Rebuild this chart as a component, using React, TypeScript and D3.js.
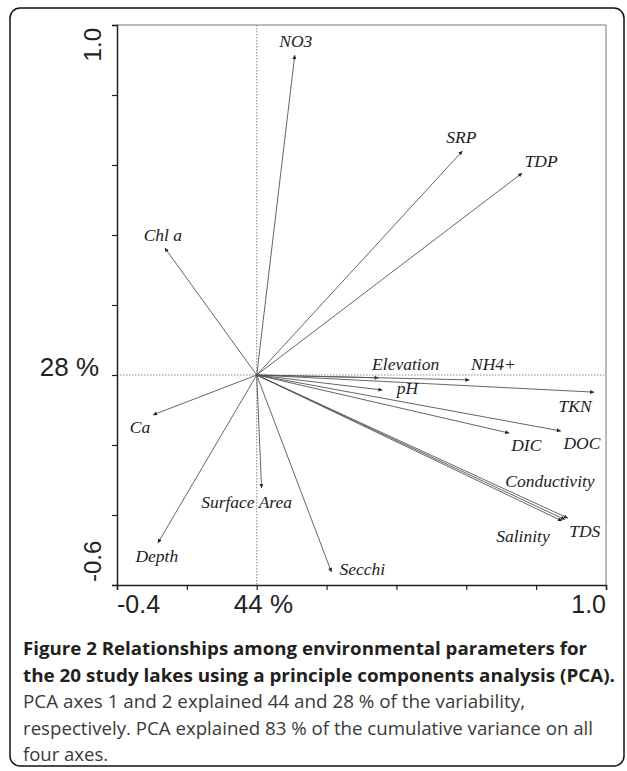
import React, { useRef, useEffect } from "react";
import * as d3 from "d3";

// PCA loadings (axis 1, axis 2)
const variables = ["NO3", "Chl a", "SRP", "TDP", "Elevation", "NH4+", "pH", "TKN", "DIC", "DOC", "Conductivity", "TDS", "Salinity", "Secchi", "Surface Area", "Depth", "Ca"];
const axis1 = [0.109, -0.263, 0.589, 0.76, 0.349, 0.609, 0.36, 0.966, 0.723, 0.871, 0.891, 0.882, 0.874, 0.214, 0.014, -0.283, -0.297];
const axis2 = [0.914, 0.363, 0.64, 0.577, -0.008, -0.014, -0.043, -0.049, -0.166, -0.16, -0.409, -0.413, -0.417, -0.563, -0.323, -0.48, -0.114];

const xTicks = [-0.4, -0.2, 0, 0.2, 0.4, 0.6, 0.8, 1.0];
const yTicks = [-0.6, -0.4, -0.2, 0, 0.2, 0.4, 0.6, 0.8, 1.0];
const axisPct = ["44 %", "28 %"];

const captionBold = [
  "Figure 2 Relationships among environmental parameters for",
  "the 20 study lakes using a principle components analysis (PCA).",
];
const captionText = [
  "PCA axes 1 and 2 explained 44 and 28 % of the variability,",
  "respectively. PCA explained 83 % of the cumulative variance on all",
  "four axes.",
];

// label placement relative to arrow tip: [dx, dy, anchor]
const labelPos: Record<string, [number, number, string]> = {
  NO3: [1, -8, "middle"],
  "Chl a": [-2, -7, "middle"],
  SRP: [-1, -8, "middle"],
  TDP: [19, -6, "middle"],
  Elevation: [27, -8, "middle"],
  "NH4+": [24, -10, "middle"],
  pH: [25, 4, "middle"],
  TKN: [-19, 20, "middle"],
  DIC: [17, 18, "middle"],
  DOC: [21, 18, "middle"],
  Conductivity: [-18, -31, "middle"],
  TDS: [20, 17, "middle"],
  Salinity: [-39, 21, "middle"],
  Secchi: [8, 3, "start"],
  "Surface Area": [-15, 20, "middle"],
  Depth: [-1, 19, "middle"],
  Ca: [-13, 18, "middle"],
};

const W = 627;
const H = 771;

const App: React.FC = () => {
  const svgRef = useRef<SVGSVGElement | null>(null);

  useEffect(() => {
    const svg = d3.select(svgRef.current);
    svg.selectAll("*").remove();

    const x = d3.scaleLinear().domain([-0.4, 1.0]).range([117, 606]);
    const y = d3.scaleLinear().domain([-0.6, 1.0]).range([585, 25]);

    svg
      .append("defs")
      .append("marker")
      .attr("id", "head")
      .attr("viewBox", "0 0 10 10")
      .attr("refX", 10)
      .attr("refY", 5)
      .attr("markerWidth", 6)
      .attr("markerHeight", 4)
      .attr("markerUnits", "userSpaceOnUse")
      .attr("orient", "auto")
      .append("path")
      .attr("d", "M0,0L10,5L0,10Z")
      .attr("fill", "#222");

    // outer frame
    svg
      .append("rect")
      .attr("x", 10)
      .attr("y", 8)
      .attr("width", 614)
      .attr("height", 758)
      .attr("rx", 10)
      .attr("fill", "none")
      .attr("stroke", "#111")
      .attr("stroke-width", 1.5);

    const plot = svg.append("g");

    // top / right box
    plot
      .append("path")
      .attr("d", `M${x(-0.4)},${y(1)}H${x(1)}V${y(-0.6)}`)
      .attr("fill", "none")
      .attr("stroke", "#777")
      .attr("stroke-width", 1);

    // dotted zero lines
    plot
      .append("line")
      .attr("x1", x(-0.4))
      .attr("x2", x(1))
      .attr("y1", y(0))
      .attr("y2", y(0))
      .attr("stroke", "#888")
      .attr("stroke-dasharray", "1.5,1.5");
    plot
      .append("line")
      .attr("x1", x(0))
      .attr("x2", x(0))
      .attr("y1", y(1))
      .attr("y2", y(-0.6))
      .attr("stroke", "#888")
      .attr("stroke-dasharray", "1.5,1.5");

    // left axis
    const yAxis = d3.axisLeft(y).tickValues(yTicks).tickSize(5).tickFormat(() => "");
    const gy = plot.append("g").attr("transform", `translate(${x(-0.4)},0)`).call(yAxis);
    gy.select(".domain").attr("stroke", "#222").attr("stroke-width", 1.5);
    gy.selectAll(".tick line").attr("stroke", "#222").attr("stroke-width", 1.2);

    // bottom axis
    const xAxis = d3.axisBottom(x).tickValues(xTicks).tickSize(5).tickFormat(() => "");
    const gx = plot.append("g").attr("transform", `translate(0,${y(-0.6)})`).call(xAxis);
    gx.select(".domain").attr("stroke", "#222").attr("stroke-width", 1.5);
    gx.selectAll(".tick line").attr("stroke", "#222").attr("stroke-width", 1.2);

    const numFont = "'Liberation Sans', Arial, sans-serif";

    // rotated y end labels
    plot
      .append("text")
      .attr("transform", `translate(101,${y(1) + 3}) rotate(-90)`)
      .attr("text-anchor", "end")
      .attr("font-family", numFont)
      .attr("font-size", 24)
      .attr("fill", "#222")
      .text("1.0");
    plot
      .append("text")
      .attr("transform", `translate(101,${y(-0.6) - 3}) rotate(-90)`)
      .attr("text-anchor", "start")
      .attr("font-family", numFont)
      .attr("font-size", 24)
      .attr("fill", "#222")
      .text("-0.6");
    plot
      .append("text")
      .attr("x", 99)
      .attr("y", 376)
      .attr("text-anchor", "end")
      .attr("font-family", numFont)
      .attr("font-size", 26)
      .attr("fill", "#222")
      .text(axisPct[1]);

    // x labels
    plot
      .append("text")
      .attr("x", x(-0.4))
      .attr("y", 613)
      .attr("font-family", numFont)
      .attr("font-size", 25)
      .attr("fill", "#222")
      .text("-0.4");
    plot
      .append("text")
      .attr("x", 293)
      .attr("y", 613)
      .attr("text-anchor", "end")
      .attr("font-family", numFont)
      .attr("font-size", 26)
      .attr("fill", "#222")
      .text(axisPct[0]);
    plot
      .append("text")
      .attr("x", x(1))
      .attr("y", 613)
      .attr("text-anchor", "end")
      .attr("font-family", numFont)
      .attr("font-size", 25)
      .attr("fill", "#222")
      .text("1.0");

    // arrows
    const data = variables.map((name, i) => ({ name, a: axis1[i], b: axis2[i] }));
    plot
      .append("g")
      .selectAll("line")
      .data(data)
      .enter()
      .append("line")
      .attr("x1", x(0))
      .attr("y1", y(0))
      .attr("x2", (d) => x(d.a))
      .attr("y2", (d) => y(d.b))
      .attr("stroke", "#555")
      .attr("stroke-width", 0.9)
      .attr("marker-end", "url(#head)");

    plot
      .append("g")
      .selectAll("text")
      .data(data)
      .enter()
      .append("text")
      .attr("x", (d) => x(d.a) + labelPos[d.name][0])
      .attr("y", (d) => y(d.b) + labelPos[d.name][1])
      .attr("text-anchor", (d) => labelPos[d.name][2])
      .attr("font-family", "'Liberation Serif', 'Times New Roman', serif")
      .attr("font-style", "italic")
      .attr("font-size", 17.5)
      .attr("fill", "#222")
      .text((d) => d.name);

    // caption
    const capFont = "'Open Sans', 'Noto Sans', sans-serif";
    const boldLen = [564, 592];
    captionBold.forEach((t, i) => {
      svg
        .append("text")
        .attr("x", 23)
        .attr("y", 655 + i * 27)
        .attr("font-family", capFont)
        .attr("font-weight", "bold")
        .attr("font-size", 18.5)
        .attr("textLength", boldLen[i])
        .attr("lengthAdjust", "spacingAndGlyphs")
        .attr("fill", "#231f20")
        .text(t);
    });
    const textLen = [502, 570, 0];
    captionText.forEach((t, i) => {
      const el = svg
        .append("text")
        .attr("x", 23)
        .attr("y", 708 + i * 26.5)
        .attr("font-family", capFont)
        .attr("font-size", 18.5)
        .attr("fill", "#3a3a3a")
        .text(t);
      if (textLen[i]) el.attr("textLength", textLen[i]).attr("lengthAdjust", "spacingAndGlyphs");
    });
  }, []);

  return (
    <svg
      ref={svgRef}
      width={W}
      height={H}
      style={{ position: "absolute", left: 0, top: 0, background: "#fff" }}
    ></svg>
  );
};

export default App;
